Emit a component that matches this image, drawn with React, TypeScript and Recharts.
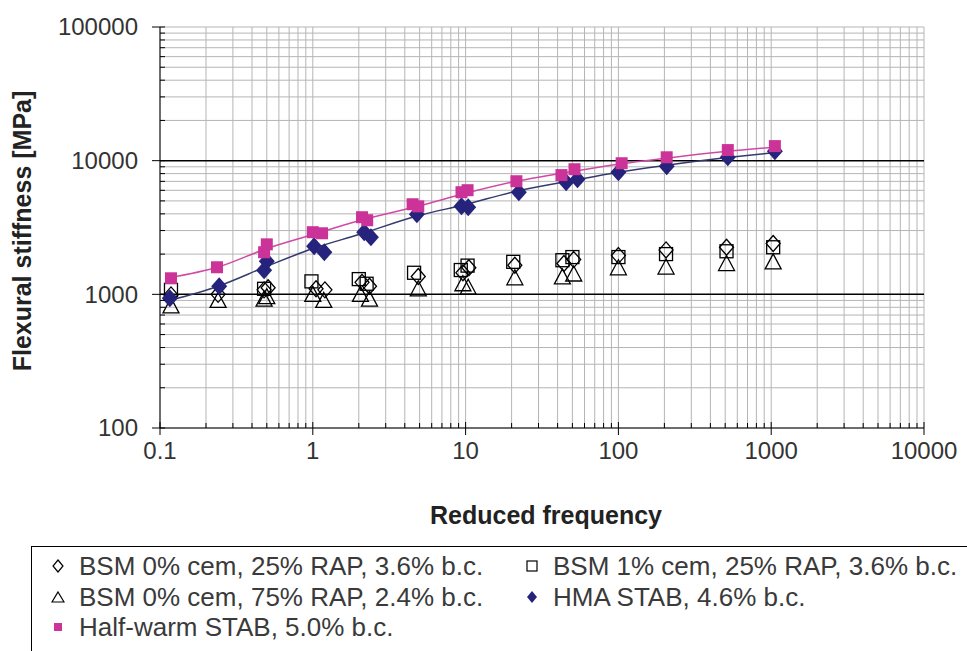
import React from 'react';
import {
  ComposedChart,
  Scatter,
  Line,
  XAxis,
  YAxis,
  ReferenceLine,
  Legend,
} from 'recharts';

// log axes
const xTicks = [0.1, 1, 10, 100, 1000, 10000];
const yTicks = [100, 1000, 10000, 100000];
const minorSteps = [2, 3, 4, 5, 6, 7, 8, 9];
const xGrid = [...xTicks.slice(0, -1).flatMap((d) => minorSteps.map((k) => d * k)), ...xTicks];
const yGrid = [...yTicks.slice(0, -1).flatMap((d) => minorSteps.map((k) => d * k)), ...yTicks];

// BSM 0% cem, 25% RAP, 3.6% b.c.
const bsm25 = [
  { f: 0.118, s: 990 }, { f: 0.24, s: 1000 }, { f: 0.48, s: 1080 }, { f: 0.51, s: 1120 },
  { f: 1.05, s: 1100 }, { f: 1.2, s: 1080 }, { f: 2.1, s: 1230 }, { f: 2.35, s: 1150 },
  { f: 4.9, s: 1360 }, { f: 9.6, s: 1450 }, { f: 10.5, s: 1580 }, { f: 21, s: 1650 },
  { f: 44, s: 1700 }, { f: 51, s: 1820 }, { f: 100, s: 1950 }, { f: 205, s: 2150 },
  { f: 510, s: 2250 }, { f: 1030, s: 2400 },
];
// BSM 1% cem, 25% RAP, 3.6% b.c.
const bsmCem = [
  { f: 0.118, s: 1080 }, { f: 0.48, s: 1100 }, { f: 0.98, s: 1250 }, { f: 2.0, s: 1300 },
  { f: 2.25, s: 1200 }, { f: 4.6, s: 1450 }, { f: 9.3, s: 1520 }, { f: 10.3, s: 1640 },
  { f: 20.5, s: 1750 }, { f: 43, s: 1800 }, { f: 50, s: 1900 }, { f: 100, s: 1900 },
  { f: 205, s: 2000 }, { f: 510, s: 2100 }, { f: 1030, s: 2250 },
];
// BSM 0% cem, 75% RAP, 2.4% b.c.
const bsm75 = [
  { f: 0.118, s: 820 }, { f: 0.24, s: 900 }, { f: 0.48, s: 920 }, { f: 0.5, s: 960 },
  { f: 1.0, s: 1000 }, { f: 1.18, s: 900 }, { f: 2.05, s: 1000 }, { f: 2.35, s: 920 },
  { f: 4.9, s: 1100 }, { f: 9.6, s: 1200 }, { f: 10.4, s: 1130 }, { f: 21, s: 1330 },
  { f: 43, s: 1350 }, { f: 51, s: 1420 }, { f: 100, s: 1580 }, { f: 205, s: 1600 },
  { f: 510, s: 1700 }, { f: 1030, s: 1750 },
];
// HMA STAB, 4.6% b.c.
const hma = [
  { f: 0.116, s: 933 }, { f: 0.244, s: 1148 }, { f: 0.48, s: 1512 }, { f: 0.5, s: 1766 },
  { f: 1.02, s: 2290 }, { f: 1.19, s: 2065 }, { f: 2.17, s: 2911 }, { f: 2.4, s: 2673 },
  { f: 4.8, s: 3975 }, { f: 9.4, s: 4560 }, { f: 10.4, s: 4484 }, { f: 22.3, s: 5808 },
  { f: 45.5, s: 6900 }, { f: 54, s: 7260 }, { f: 100, s: 8200 }, { f: 207, s: 9100 },
  { f: 520, s: 10600 }, { f: 1057, s: 11780 },
];
// Half-warm STAB, 5.0% b.c.
const halfWarm = [
  { f: 0.118, s: 1318 }, { f: 0.236, s: 1594 }, { f: 0.48, s: 2064 }, { f: 0.5, s: 2366 },
  { f: 1.0, s: 2916 }, { f: 1.15, s: 2863 }, { f: 2.1, s: 3775 }, { f: 2.27, s: 3584 },
  { f: 4.5, s: 4720 }, { f: 4.9, s: 4550 }, { f: 9.4, s: 5808 }, { f: 10.3, s: 6012 },
  { f: 21.5, s: 7015 }, { f: 42.4, s: 7800 }, { f: 51.6, s: 8630 }, { f: 105, s: 9570 },
  { f: 207, s: 10600 }, { f: 520, s: 12000 }, { f: 1057, s: 12850 },
];
// fitted master curves
const hmaCurve = [
  { f: 0.115, s: 900 }, { f: 0.24, s: 1150 }, { f: 0.5, s: 1620 }, { f: 1, s: 2200 },
  { f: 2, s: 2800 }, { f: 5, s: 3900 }, { f: 10, s: 4700 }, { f: 20, s: 5800 },
  { f: 50, s: 7100 }, { f: 100, s: 8200 }, { f: 200, s: 9200 }, { f: 500, s: 10500 },
  { f: 1050, s: 11500 },
];
const halfWarmCurve = [
  { f: 0.115, s: 1330 }, { f: 0.24, s: 1600 }, { f: 0.5, s: 2200 }, { f: 1, s: 2800 },
  { f: 2, s: 3550 }, { f: 5, s: 4600 }, { f: 10, s: 5700 }, { f: 20, s: 6900 },
  { f: 50, s: 8300 }, { f: 100, s: 9400 }, { f: 200, s: 10400 }, { f: 500, s: 11700 },
  { f: 1050, s: 12600 },
];

const NAVY = '#25237c';
const MAGENTA = '#cc3399';
const FONT = '"Liberation Sans", Arial, sans-serif';

const openDiamond = (p: any) => (
  <path d={`M${p.cx},${p.cy - 8}L${p.cx + 7},${p.cy}L${p.cx},${p.cy + 8}L${p.cx - 7},${p.cy}Z`}
    fill="none" stroke="#000" strokeWidth={1.3} />
);
const openSquare = (p: any) => (
  <rect x={p.cx - 6.5} y={p.cy - 6.5} width={13} height={13} fill="none" stroke="#000" strokeWidth={1.3} />
);
const openTriangle = (p: any) => (
  <path d={`M${p.cx},${p.cy - 8}L${p.cx + 8},${p.cy + 7}L${p.cx - 8},${p.cy + 7}Z`}
    fill="none" stroke="#000" strokeWidth={1.3} />
);
const navyDiamond = (p: any) => (
  <path d={`M${p.cx},${p.cy - 9}L${p.cx + 8},${p.cy}L${p.cx},${p.cy + 9}L${p.cx - 8},${p.cy}Z`} fill={NAVY} />
);
const magentaSquare = (p: any) => (
  <rect x={p.cx - 6} y={p.cy - 6} width={12} height={12} fill={MAGENTA} />
);

const XTick = ({ x, y, payload }: any) => {
  const major = xTicks.includes(payload.value);
  return (
    <g>
      <line x1={x} x2={x} y1={major ? y - 6 : y - 5} y2={major ? y + 7 : y} stroke="#000" />
      {major && (
        <text x={x} y={y + 31} textAnchor="middle" fontSize={24} fill="#333" fontFamily={FONT}>
          {String(payload.value)}
        </text>
      )}
    </g>
  );
};

const YTick = ({ x, y, payload }: any) => {
  const major = yTicks.includes(payload.value);
  return (
    <g>
      <line x1={major ? x - 8 : x} x2={major ? x + 5 : x + 5} y1={y} y2={y} stroke="#000" />
      {major && (
        <text x={x - 22} y={y} dy="0.35em" textAnchor="end" fontSize={24} fill="#333" fontFamily={FONT}>
          {String(payload.value)}
        </text>
      )}
    </g>
  );
};

const legendItems = [
  { name: 'BSM 0% cem, 25% RAP, 3.6% b.c.', shape: 'diamond', col: 0, row: 0 },
  { name: 'BSM 1% cem, 25% RAP, 3.6% b.c.', shape: 'square', col: 1, row: 0 },
  { name: 'BSM 0% cem, 75% RAP, 2.4% b.c.', shape: 'triangle', col: 0, row: 1 },
  { name: 'HMA STAB, 4.6% b.c.', shape: 'navy', col: 1, row: 1 },
  { name: 'Half-warm STAB, 5.0% b.c.', shape: 'magenta', col: 0, row: 2 },
];

const LegendMarker = ({ shape }: { shape: string }) => (
  <svg width={14} height={14} style={{ position: 'absolute', left: 0, top: 9 }}>
    {shape === 'diamond' && <path d="M7,1L12,7L7,13L2,7Z" fill="none" stroke="#000" strokeWidth={1.2} />}
    {shape === 'square' && <rect x={2} y={2} width={10} height={10} fill="none" stroke="#000" strokeWidth={1.2} />}
    {shape === 'triangle' && <path d="M7,2L13,12L1,12Z" fill="none" stroke="#000" strokeWidth={1.2} />}
    {shape === 'navy' && <path d="M7,1L12,7L7,13L2,7Z" fill={NAVY} />}
    {shape === 'magenta' && <rect x={3} y={3} width={8} height={8} fill={MAGENTA} />}
  </svg>
);

const renderLegend = () => (
  <div style={{ position: 'relative', width: 960, height: 130, border: '1px solid #000', boxSizing: 'border-box' }}>
    {legendItems.map((it) => (
      <div key={it.name} style={{
        position: 'absolute', left: it.col === 0 ? 19 : 493, top: 3 + it.row * 30.5,
        fontFamily: FONT, fontSize: 26, color: '#3a3a3a', whiteSpace: 'nowrap', lineHeight: '32px',
      }}>
        <LegendMarker shape={it.shape} />
        <span style={{ marginLeft: 28 }}>{it.name}</span>
      </div>
    ))}
  </div>
);

export default function App() {
  return (
    <div style={{ position: 'absolute', left: 0, top: 0, width: 967, height: 651, overflow: 'hidden', background: '#fff' }}>
      <ComposedChart width={967} height={651} margin={{ top: 27, right: 43, bottom: 163, left: 0 }}>
        <XAxis
          dataKey="f" type="number" scale="log" domain={[0.1, 10000]} ticks={xGrid}
          allowDataOverflow interval={0} height={60} stroke="#000" tickSize={0} tickMargin={0}
          tickLine={false} tick={<XTick />}
          label={{
            content: () => (
              <text x={546} y={524} textAnchor="middle" fontSize={25} fontWeight="bold" fill="#222" fontFamily={FONT}>
                Reduced frequency
              </text>
            ),
          }}
        />
        <YAxis
          dataKey="s" type="number" scale="log" domain={[100, 100000]} ticks={yGrid}
          allowDataOverflow interval={0} width={160} stroke="#000" tickSize={0} tickMargin={0}
          tickLine={false} tick={<YTick />}
          label={{
            content: () => (
              <text x={0} y={0} transform="translate(31 231) rotate(-90)" textAnchor="middle"
                fontSize={25} fontWeight="bold" fill="#222" fontFamily={FONT}>
                Flexural stiffness [MPa]
              </text>
            ),
          }}
        />
        {xGrid.map((v) => (
          <ReferenceLine key={`x${v}`} x={v} stroke="#b5b5b5" strokeWidth={1} />
        ))}
        {yGrid.map((v) => (
          <ReferenceLine key={`y${v}`} y={v}
            stroke={v === 1000 || v === 10000 ? '#000' : '#b5b5b5'}
            strokeWidth={v === 1000 || v === 10000 ? 1.5 : 1} />
        ))}
        <Line data={halfWarmCurve} dataKey="s" type="monotone" stroke="#d04aa5" strokeWidth={1.5}
          dot={false} isAnimationActive={false} legendType="none" />
        <Line data={hmaCurve} dataKey="s" type="monotone" stroke="#333a6e" strokeWidth={1.5}
          dot={false} isAnimationActive={false} legendType="none" />
        <Scatter data={bsm75} dataKey="s" shape={openTriangle} isAnimationActive={false} />
        <Scatter data={bsmCem} dataKey="s" shape={openSquare} isAnimationActive={false} />
        <Scatter data={bsm25} dataKey="s" shape={openDiamond} isAnimationActive={false} />
        <Scatter data={hma} dataKey="s" shape={navyDiamond} isAnimationActive={false} />
        <Scatter data={halfWarm} dataKey="s" shape={magentaSquare} isAnimationActive={false} />
        <Legend layout="horizontal" verticalAlign="middle" align="center" content={renderLegend}
          wrapperStyle={{ left: 31, top: 546, width: 960, height: 130 }} />
      </ComposedChart>
    </div>
  );
}
